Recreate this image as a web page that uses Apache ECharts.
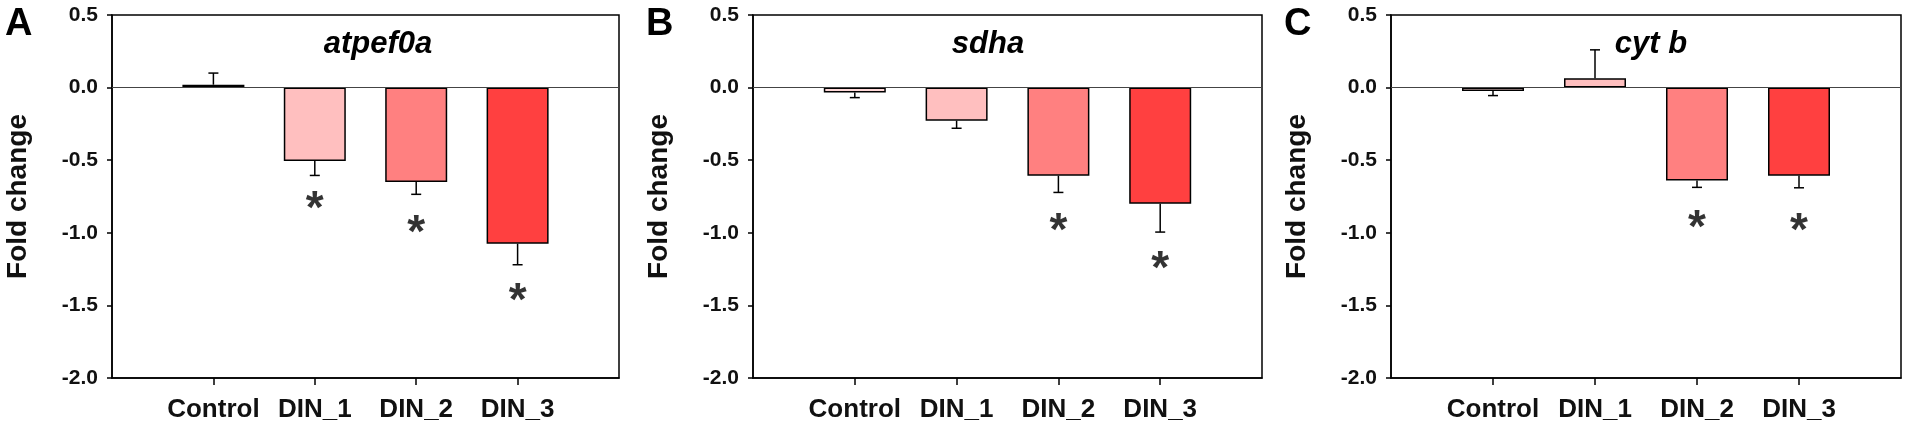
<!DOCTYPE html>
<html>
<head>
<meta charset="utf-8">
<script src="https://cdn.jsdelivr.net/npm/echarts@6/dist/echarts.min.js"></script>
<style>
  html, body { margin: 0; padding: 0; background: #fff; }
  #main { width: 1907px; height: 433px; }
</style>
</head>
<body>
<div id="main"></div>
<script>
// slots 0 and 5 are empty padding so the 4 groups sit one step in from the frame
var categories = ['', 'Control', 'DIN_1', 'DIN_2', 'DIN_3', ''];
var barColors = ['#ffd9d9', '#ffbfbf', '#ff8080', '#ff4040'];

var panelLetters = ['A', 'B', 'C'];
var geneNames = ['atpef0a', 'sdha', 'cyt b'];

// mean fold change per group (Control, DIN_1, DIN_2, DIN_3)
var atpValues = [0.02, -0.505, -0.65, -1.075];
var atpErrors = [0.08, 0.10, 0.085, 0.145];
var atpStars = [null, -0.77, -0.937, -1.405];

var sdhaValues = [-0.034, -0.228, -0.607, -0.80];
var sdhaErrors = [0.035, 0.052, 0.115, 0.195];
var sdhaStars = [null, null, -0.92, -1.18];

var cytbValues = [-0.023, 0.064, -0.64, -0.607];
var cytbErrors = [0.032, 0.196, 0.047, 0.083];
var cytbStars = [null, null, -0.90, -0.924];

var yMin = -2.0, yMax = 0.5, yStep = 0.5;

var gridBoxes = [
    {left: 112, right: 1288, top: 15, bottom: 55},
    {left: 753, right: 645, top: 15, bottom: 55},
    {left: 1391, right: 6, top: 15, bottom: 55}
];
var titleX = [378, 988, 1651];
var letterX = [5, 646, 1284];

var panels = [
    {values: atpValues, errors: atpErrors, stars: atpStars},
    {values: sdhaValues, errors: sdhaErrors, stars: sdhaStars},
    {values: cytbValues, errors: cytbErrors, stars: cytbStars}
];

var FONT = '"Liberation Sans", Arial, sans-serif';

var chart = echarts.init(document.getElementById('main'), null, {renderer: 'canvas'});

var grids = [], xAxes = [], yAxes = [], series = [], graphics = [];

panels.forEach(function (p, k) {
    grids.push(Object.assign({
        show: true, borderColor: '#000', borderWidth: 1.5, backgroundColor: 'transparent'
    }, gridBoxes[k]));

    xAxes.push({
        type: 'category', gridIndex: k, data: categories, boundaryGap: false,
        axisLine: {onZero: false, lineStyle: {color: '#000', width: 1.5}},
        axisTick: {
            show: true, length: 7, lineStyle: {color: '#000', width: 1.5},
            interval: function (i) { return i > 0 && i < categories.length - 1; }
        },
        axisLabel: {
            interval: 0, margin: 19, color: '#111',
            fontFamily: FONT, fontWeight: 'bold', fontSize: 26
        },
        splitLine: {show: false}
    });

    yAxes.push({
        type: 'value', gridIndex: k, min: yMin, max: yMax, interval: yStep,
        name: 'Fold change', nameLocation: 'middle', nameGap: 80, nameRotate: 90,
        nameTextStyle: {fontFamily: FONT, fontWeight: 'bold', fontSize: 28, color: '#111'},
        axisLine: {show: true, lineStyle: {color: '#000', width: 1.5}},
        axisTick: {show: true, length: 5, lineStyle: {color: '#000', width: 1.5}},
        axisLabel: {
            margin: 14, color: '#111', fontFamily: FONT, fontWeight: 'bold', fontSize: 21,
            formatter: function (v) { return v.toFixed(1); }
        },
        splitLine: {show: false}
    });

    var barData = [null];
    p.values.forEach(function (v, i) {
        barData.push({value: v, itemStyle: {color: barColors[i]}});
    });
    barData.push(null);

    series.push({
        type: 'bar', xAxisIndex: k, yAxisIndex: k, data: barData, barWidth: 62,
        itemStyle: {borderColor: '#000', borderWidth: 1.5},
        silent: true,
        markLine: {
            silent: true, symbol: ['none', 'none'], label: {show: false},
            lineStyle: {color: '#444', width: 1, type: 'solid'},
            data: [{yAxis: 0}]
        }
    });

    // one-sided error bars, pointing away from zero
    series.push({
        type: 'custom', xAxisIndex: k, yAxisIndex: k, silent: true, z: 3,
        data: p.values.map(function (v, i) { return [i + 1, v, p.errors[i]]; }),
        renderItem: function (params, api) {
            var v = api.value(1);
            var end = v + (v >= 0 ? 1 : -1) * api.value(2);
            var a = api.coord([api.value(0), v]);
            var b = api.coord([api.value(0), end]);
            var st = {stroke: '#000', lineWidth: 1.5};
            return {
                type: 'group',
                children: [
                    {type: 'line', shape: {x1: a[0], y1: a[1], x2: b[0], y2: b[1]}, style: st},
                    {type: 'line', shape: {x1: b[0] - 5, y1: b[1], x2: b[0] + 5, y2: b[1]}, style: st}
                ]
            };
        }
    });

    var starData = [];
    p.stars.forEach(function (s, i) { if (s !== null) starData.push([i + 1, s]); });
    series.push({
        type: 'scatter', xAxisIndex: k, yAxisIndex: k, silent: true,
        symbolSize: 2, itemStyle: {color: 'rgba(0,0,0,0)'},
        data: starData,
        label: {
            show: true, position: 'inside', formatter: '*', offset: [0, 11],
            color: '#000', fontFamily: FONT, fontWeight: 'bold', fontSize: 46
        }
    });

    graphics.push({
        type: 'text', left: letterX[k], top: 6,
        style: {text: panelLetters[k], font: 'bold 38px ' + FONT, fill: '#000'}
    });
    graphics.push({
        type: 'text', x: titleX[k], y: 44,
        style: {
            text: geneNames[k], font: 'italic bold 31px ' + FONT, fill: '#000',
            textAlign: 'center', textVerticalAlign: 'middle'
        }
    });
});

chart.setOption({
    animation: false,
    backgroundColor: '#fff',
    grid: grids,
    xAxis: xAxes,
    yAxis: yAxes,
    series: series,
    graphic: graphics
});
</script>
</body>
</html>
